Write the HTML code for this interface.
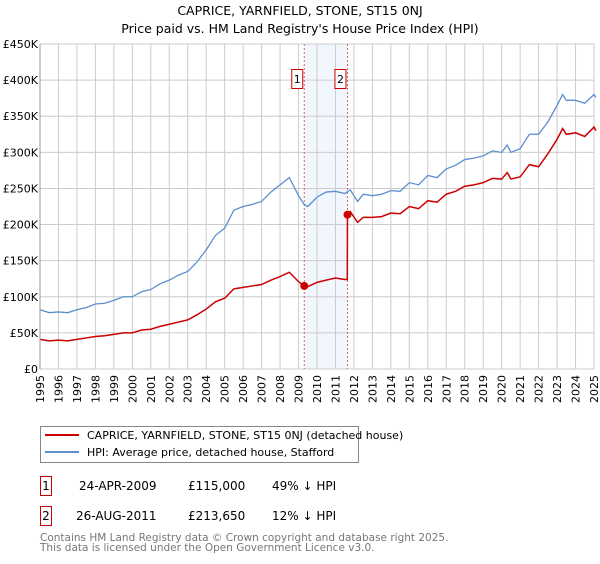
<!DOCTYPE html>
<html><head><meta charset="utf-8"><style>
body{margin:0;background:#fff;font-family:"DejaVu Sans","Liberation Sans",sans-serif;}
svg text{font-family:"DejaVu Sans","Liberation Sans",sans-serif;}
</style></head><body>
<svg width="600" height="560" viewBox="0 0 600 560" id="c">
<text x="300" y="15" text-anchor="middle" font-size="12.5">CAPRICE, YARNFIELD, STONE, ST15 0NJ</text>
<text x="300" y="33" text-anchor="middle" font-size="12.5">Price paid vs. HM Land Registry's House Price Index (HPI)</text>
<g id="grid"></g>
<g id="marks"></g>
<g id="axes"></g>
<g>
<rect x="40.5" y="426.5" width="318" height="36" fill="#fff" stroke="#888"/>
<line x1="45" y1="435" x2="79" y2="435" stroke="#cc0000" stroke-width="2"/>
<text x="87" y="439" font-size="11">CAPRICE, YARNFIELD, STONE, ST15 0NJ (detached house)</text>
<line x1="45" y1="452" x2="79" y2="452" stroke="#5b8fd0" stroke-width="2"/>
<text x="87" y="456" font-size="11">HPI: Average price, detached house, Stafford</text>
</g>
<g font-size="12">
<rect x="40.5" y="476.5" width="11" height="19" fill="none" stroke="#cc0000"/>
<text x="46" y="490" text-anchor="middle">1</text>
<text x="79" y="490">24-APR-2009</text>
<text x="188" y="490">£115,000</text>
<text x="272" y="490">49% ↓ HPI</text>
<rect x="40.5" y="506.5" width="11" height="19" fill="none" stroke="#cc0000"/>
<text x="46" y="520" text-anchor="middle">2</text>
<text x="76" y="520">26-AUG-2011</text>
<text x="188" y="520">£213,650</text>
<text x="272" y="520">12% ↓ HPI</text>
</g>
<text x="40" y="541" font-size="10.5" fill="#777">Contains HM Land Registry data © Crown copyright and database right 2025.</text>
<text x="40" y="551" font-size="10.5" fill="#777">This data is licensed under the Open Government Licence v3.0.</text>
</svg>
<script>
const hpiYears=[1995,1995.5,1996,1996.5,1997,1997.5,1998,1998.5,1999,1999.5,2000,2000.5,2001,2001.5,2002,2002.5,2003,2003.5,2004,2004.5,2005,2005.5,2006,2006.5,2007,2007.5,2008,2008.5,2009,2009.3,2009.5,2010,2010.5,2011,2011.5,2011.8,2012.2,2012.5,2013,2013.5,2014,2014.5,2015,2015.5,2016,2016.5,2017,2017.5,2018,2018.5,2019,2019.5,2020,2020.3,2020.5,2021,2021.5,2022,2022.5,2023,2023.3,2023.5,2024,2024.5,2025,2025.1];
const hpiValues=[82,78,79,78,82,85,90,91,95,100,100,107,110,118,123,130,135,148,165,185,195,220,225,228,232,245,255,265,240,228,225,238,245,246,243,248,232,242,240,242,247,246,258,255,268,265,277,282,290,292,295,302,300,310,300,305,325,325,342,365,380,372,372,368,380,376];
const propYears=[1995,1995.5,1996,1996.5,1997,1997.5,1998,1998.5,1999,1999.5,2000,2000.5,2001,2001.5,2002,2002.5,2003,2003.5,2004,2004.5,2005,2005.5,2006,2006.5,2007,2007.5,2008,2008.5,2009,2009.3,2009.5,2010,2010.5,2011,2011.5,2011.64,2011.65,2011.8,2012.2,2012.5,2013,2013.5,2014,2014.5,2015,2015.5,2016,2016.5,2017,2017.5,2018,2018.5,2019,2019.5,2020,2020.3,2020.5,2021,2021.5,2022,2022.5,2023,2023.3,2023.5,2024,2024.5,2025,2025.1];
const propValues=[41,39,40,39,41,43,45,46,48,50,50,54,55,59,62,65,68,75,83,93,98,111,113,115,117,123,128,134,121,115,114,120,123,126,124,124,213.65,218,203,210,210,211,216,215,225,222,233,231,242,246,253,255,258,264,263,272,263,266,283,280,298,318,333,325,327,322,335,330];
const saleYears=[2009.31,2011.65];
const saleValues=[115,213.65];
const saleLabels=["1","2"];
const yTicks=[0,50,100,150,200,250,300,350,400,450];
const yTickLabels=["£0","£50K","£100K","£150K","£200K","£250K","£300K","£350K","£400K","£450K"];
const xTicks=[];for(let y=1995;y<=2025;y++)xTicks.push(y);

const X0=40,X1=594,Y0=369,Y1=44;
const sx=v=>X0+(v-1995)/30*(X1-X0);
const sy=v=>Y0-v/450*(Y0-Y1);
const NS="http://www.w3.org/2000/svg";
function mk(t,a,p){const e=document.createElementNS(NS,t);for(const k in a)e.setAttribute(k,a[k]);p.appendChild(e);return e;}
const grid=document.getElementById('grid'),marks=document.getElementById('marks'),axes=document.getElementById('axes');
const band=mk('rect',{x:sx(saleYears[0]),y:Y1,width:sx(saleYears[1])-sx(saleYears[0]),height:Y0-Y1,fill:'#f2f6fd'},grid);


yTicks.forEach((t,i)=>{
 const l=mk('line',{x1:X0,x2:X1,y1:sy(t),y2:sy(t),stroke:'#cccccc','stroke-width':1},grid);
 
 
 const tx=mk('text',{x:X0-2,y:sy(t)+4,'text-anchor':'end','font-size':11},axes);
 tx.textContent=yTickLabels[i];
 
 
});
xTicks.forEach(t=>{
 const l=mk('line',{x1:sx(t),x2:sx(t),y1:Y1,y2:Y0,stroke:'#cccccc','stroke-width':1},grid);
 
 
 const tx=mk('text',{x:0,y:0,'text-anchor':'end','font-size':11,transform:`translate(${sx(t)+4},${Y0+6}) rotate(-90)`},axes);
 tx.textContent=String(t);
 
 
});
saleYears.forEach((s,i)=>{
 const l=mk('line',{x1:sx(s),x2:sx(s),y1:Y1,y2:Y0,stroke:'#e06060','stroke-width':1,'stroke-dasharray':'2,2'},marks);
 
 
});
const hp=mk('polyline',{points:hpiYears.map((y,i)=>sx(y)+','+sy(hpiValues[i])).join(' '),fill:'none',stroke:'#5b8fd0','stroke-width':1.3},marks);


const pp=mk('polyline',{points:propYears.map((y,i)=>sx(y)+','+sy(propValues[i])).join(' '),fill:'none',stroke:'#cc0000','stroke-width':1.5},marks);


saleYears.forEach((s,i)=>{
 const c=mk('circle',{cx:sx(s),cy:sy(saleValues[i]),r:4,fill:'#cc0000'},marks);
 
 
 const r=mk('rect',{x:sx(s)-12.5,y:69.5,width:11,height:19,fill:'#fff',stroke:'#cc0000'},marks);
 
 
 const t=mk('text',{x:sx(s)-7,y:83,'text-anchor':'middle','font-size':11},marks);
 t.textContent=saleLabels[i];
 
 
});
const ax=mk('line',{x1:X0,x2:X0,y1:Y1,y2:Y0,stroke:'#999'},axes);


</script>
</body></html>
